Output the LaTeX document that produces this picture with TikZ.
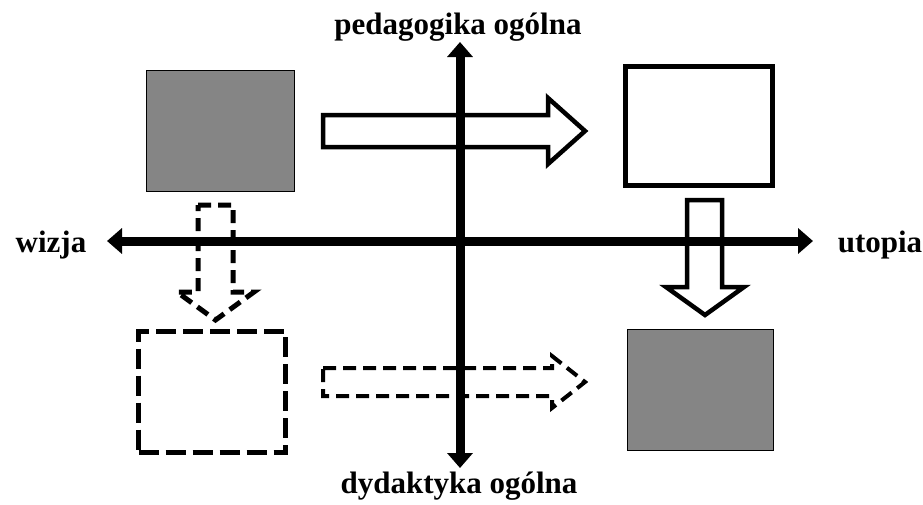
\documentclass[tikz,border=0pt]{standalone}
\usepackage{fontspec}
\setmainfont{Liberation Serif}
\usetikzlibrary{arrows.meta}

\tikzset{
	axis/.style={line width=9pt, {Triangle[width=25pt,length=15pt]}-{Triangle[width=25pt,length=15pt]}},
	greybox/.style={draw=black, line width=0.8pt, fill=black!48, inner sep=0pt, outer sep=0pt},
	whitebox/.style={draw=black, line width=5pt, inner sep=0pt, outer sep=0pt},
	dashbox/.style={draw=black, line width=5pt, dash pattern=on 20pt off 7pt, inner sep=0pt, outer sep=0pt},
	blockarrow/.style={line width=4.5pt, line join=miter},
	dasharrow/.style={line width=4pt, dash pattern=on 13pt off 7pt, line join=miter},
	axislabel/.style={anchor=base, inner sep=0pt, font=\fontsize{31}{36}\selectfont\bfseries}
}

\begin{document}
\begin{tikzpicture}[x=1pt, y=-1pt]
	\useasboundingbox (0,0) rectangle (923,504);
	% axes
	\node[axislabel] (top) at (458,34) {pedagogika ogólna};
	\node[axislabel] (bottom) at (459,493) {dydaktyka ogólna};
	\node[axislabel] (left) at (51,252) {wizja};
	\node[axislabel] (right) at (880,252) {utopia};
	\coordinate (n) at (460,42);
	\coordinate (s) at (460,468);
	\coordinate (w) at (107,241);
	\coordinate (e) at (813,241);
	\draw[axis] (s) -- (n);
	\draw[axis] (w) -- (e);
	% boxes
	\node[greybox, minimum width=148pt, minimum height=121pt] (tl) at (220,130.5) {};
	\node[whitebox, minimum width=147pt, minimum height=119pt] (tr) at (699,126) {};
	\node[dashbox, minimum width=147pt, minimum height=121pt] (bl) at (212,392) {};
	\node[greybox, minimum width=146pt, minimum height=121pt] (br) at (700,389.5) {};
	% block arrows
	\draw[blockarrow] (323,115) -- (548,115) -- (548,98) -- (585,131) -- (548,164) -- (548,147) -- (323,147) -- cycle;
	\draw[dasharrow] (323,368) -- (552,368) -- (552,356) -- (585,382) -- (552,408) -- (552,396) -- (323,396) -- cycle;
	\draw[dasharrow, line width=5pt] (198,205) -- (233,205) -- (233,292) -- (254,292) -- (215.5,320) -- (177,292) -- (198,292) -- cycle;
	\draw[blockarrow] (687,200) -- (722,200) -- (722,287) -- (744,287) -- (705,315) -- (666,287) -- (687,287) -- cycle;
\end{tikzpicture}
\end{document}
